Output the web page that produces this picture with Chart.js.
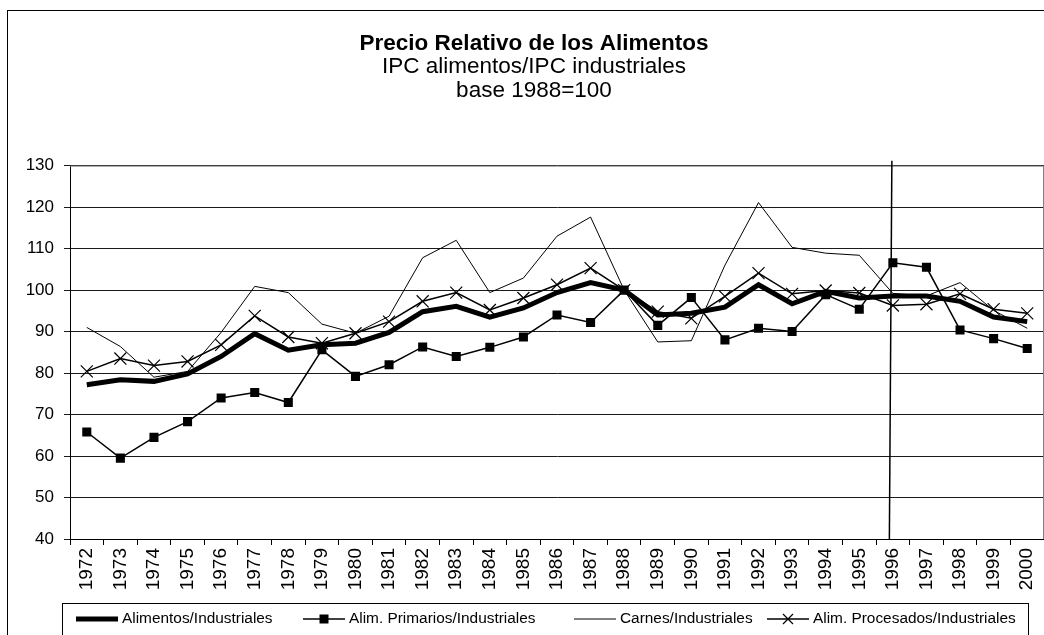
<!DOCTYPE html>
<html>
<head>
<meta charset="utf-8">
<script src="https://cdn.jsdelivr.net/npm/chart.js@4.4.1/dist/chart.umd.min.js"></script>
<style>
  html, body { margin: 0; padding: 0; background: #fff; }
  #wrap { width: 1044px; height: 635px; }
</style>
</head>
<body>
<div id="wrap"><canvas id="chart" width="1044" height="635"></canvas></div>
<script>
    const years = ['1972', '1973', '1974', '1975', '1976', '1977', '1978', '1979', '1980', '1981',
        '1982', '1983', '1984', '1985', '1986', '1987', '1988', '1989', '1990', '1991',
        '1992', '1993', '1994', '1995', '1996', '1997', '1998', '1999', '2000'];
    const alimentos = [77.2, 78.4, 78.0, 79.8, 84.0, 89.5, 85.5, 86.8, 87.2, 89.8,
        94.8, 96.1, 93.5, 95.7, 99.4, 101.8, 100.0, 94.0, 94.4, 95.9,
        101.3, 96.7, 99.7, 98.1, 98.6, 98.6, 97.3, 93.5, 92.4];
    const primarios = [65.8, 59.5, 64.5, 68.3, 74.0, 75.3, 72.9, 85.6, 79.2, 82.0,
        86.3, 84.0, 86.2, 88.7, 94.0, 92.2, 100.0, 91.5, 98.2, 88.0,
        90.8, 90.0, 98.9, 95.4, 106.6, 105.5, 90.4, 88.3, 85.9];
    const carnes = [91.0, 86.4, 79.0, 80.4, 89.8, 100.9, 99.4, 91.8, 89.6, 93.7,
        107.8, 112.0, 99.4, 102.9, 113.0, 117.6, 100.0, 87.5, 87.8, 106.0,
        121.1, 110.3, 108.9, 108.4, 99.2, 98.6, 101.8, 95.1, 90.8];
    const procesados = [80.4, 83.5, 81.8, 82.8, 86.8, 93.8, 88.7, 87.2, 89.6, 92.4,
        97.3, 99.4, 95.2, 98.1, 101.3, 105.3, 100.0, 94.8, 93.2, 98.5,
        104.1, 99.1, 99.9, 99.3, 96.3, 96.6, 99.1, 95.4, 94.4];
    const yMin = 40, yMax = 130, yStep = 10;
    const markYear = '1996';

    Chart.defaults.font.family = '"Liberation Sans", Arial, sans-serif';
    Chart.defaults.color = '#000';

    // frame, plot border, 1996 marker line and the boxed legend
    const extras = {
        id: 'extras',
        beforeDraw(chart) {
            const { ctx } = chart;
            ctx.save();
            ctx.fillStyle = '#fff';
            ctx.fillRect(0, 0, chart.width, chart.height);
            ctx.strokeStyle = '#000';
            ctx.lineWidth = 1;
            ctx.strokeRect(7.5, 10.5, 1200, 1000);
            ctx.restore();
        },
        afterDatasetsDraw(chart) {
            const { ctx, chartArea: a, scales } = chart;
            ctx.save();
            ctx.strokeStyle = '#808080';
            ctx.lineWidth = 1;
            ctx.beginPath();
            ctx.moveTo(a.left, a.top + 0.5); ctx.lineTo(a.right - 0.5, a.top + 0.5);
            ctx.lineTo(a.right - 0.5, a.bottom);
            ctx.stroke();
            const px = scales.x.getPixelForValue(years.indexOf(markYear));
            ctx.strokeStyle = '#000';
            ctx.lineWidth = 1.5;
            ctx.beginPath();
            ctx.moveTo(px - 1, a.top - 5);
            ctx.lineTo(px - 3.5, a.bottom);
            ctx.stroke();
            ctx.restore();
        },
        afterDraw(chart) {
            const { ctx } = chart;
            const y = 619, sample = 42, starts = [76, 303, 574, 767];
            ctx.save();
            ctx.strokeStyle = '#000';
            ctx.lineWidth = 1;
            ctx.strokeRect(62.5, 603.5, 966, 100);
            ctx.font = '15.4px "Liberation Sans", Arial, sans-serif';
            ctx.textBaseline = 'middle';
            ctx.textAlign = 'left';
            ctx.fillStyle = '#000';
            chart.data.datasets.forEach((ds, i) => {
                const x0 = starts[i];
                ctx.strokeStyle = '#000';
                ctx.lineWidth = ds.borderWidth;
                ctx.beginPath();
                ctx.moveTo(x0, y); ctx.lineTo(x0 + sample, y);
                ctx.stroke();
                const cx = x0 + sample / 2;
                if (ds.pointStyle === 'rect') {
                    ctx.fillRect(cx - 4.5, y - 4.5, 9, 9);
                } else if (ds.pointStyle === 'crossRot') {
                    ctx.lineWidth = 1.2;
                    ctx.beginPath();
                    ctx.moveTo(cx - 5, y - 5); ctx.lineTo(cx + 5, y + 5);
                    ctx.moveTo(cx + 5, y - 5); ctx.lineTo(cx - 5, y + 5);
                    ctx.stroke();
                }
                ctx.fillText(ds.label, x0 + sample + 4, y);
            });
            ctx.restore();
        }
    };

    new Chart(document.getElementById('chart'), {
        type: 'line',
        data: {
            labels: years,
            datasets: [
                {
                    label: 'Alimentos/Industriales', data: alimentos,
                    borderColor: '#000', borderWidth: 5, pointRadius: 0, pointStyle: false
                },
                {
                    label: 'Alim. Primarios/Industriales', data: primarios,
                    borderColor: '#000', borderWidth: 1.5, pointStyle: 'rect', pointRadius: 6.4,
                    pointBackgroundColor: '#000', pointBorderColor: '#000', pointBorderWidth: 0
                },
                {
                    label: 'Carnes/Industriales', data: carnes,
                    borderColor: '#000', borderWidth: 1, pointRadius: 0, pointStyle: false
                },
                {
                    label: 'Alim. Procesados/Industriales', data: procesados,
                    borderColor: '#000', borderWidth: 1.5, pointStyle: 'crossRot', pointRadius: 8.5,
                    pointBackgroundColor: '#000', pointBorderColor: '#000', pointBorderWidth: 1.2
                }
            ]
        },
        options: {
            responsive: false,
            animation: false,
            events: [],
            layout: { autoPadding: false, padding: { top: 10, left: 24, right: 0, bottom: 36 } },
            elements: { line: { tension: 0 } },
            plugins: {
                legend: { display: false },
                tooltip: { enabled: false },
                title: {
                    display: true, text: 'Precio Relativo de los Alimentos', color: '#000',
                    font: { size: 22.5, weight: 'bold', lineHeight: 0.9 },
                    padding: { top: 23.9, bottom: 0 }
                },
                subtitle: {
                    display: true, text: ['IPC alimentos/IPC industriales', 'base 1988=100'], color: '#000',
                    font: { size: 22.5, lineHeight: 1.1 },
                    padding: { top: 0, bottom: 62 }
                }
            },
            scales: {
                x: {
                    offset: true,
                    afterFit(s) { s.height = 60; s.paddingLeft = 0; s.paddingRight = 0; },
                    grid: { drawOnChartArea: false, drawTicks: true, tickLength: 6, color: '#000', offset: true },
                    border: { display: true, color: '#000', width: 1 },
                    ticks: { autoSkip: false, maxRotation: 90, minRotation: 90, padding: 3, color: '#000', font: { size: 19 } }
                },
                y: {
                    min: yMin, max: yMax,
                    afterFit(s) { s.width = 46; },
                    grid: { color: '#1a1a1a', lineWidth: 1, tickLength: 6, drawTicks: true },
                    border: { display: true, color: '#000', width: 1 },
                    ticks: { stepSize: yStep, padding: 10, color: '#000', font: { size: 17 } }
                }
            }
        },
        plugins: [extras]
    });
</script>
</body>
</html>
